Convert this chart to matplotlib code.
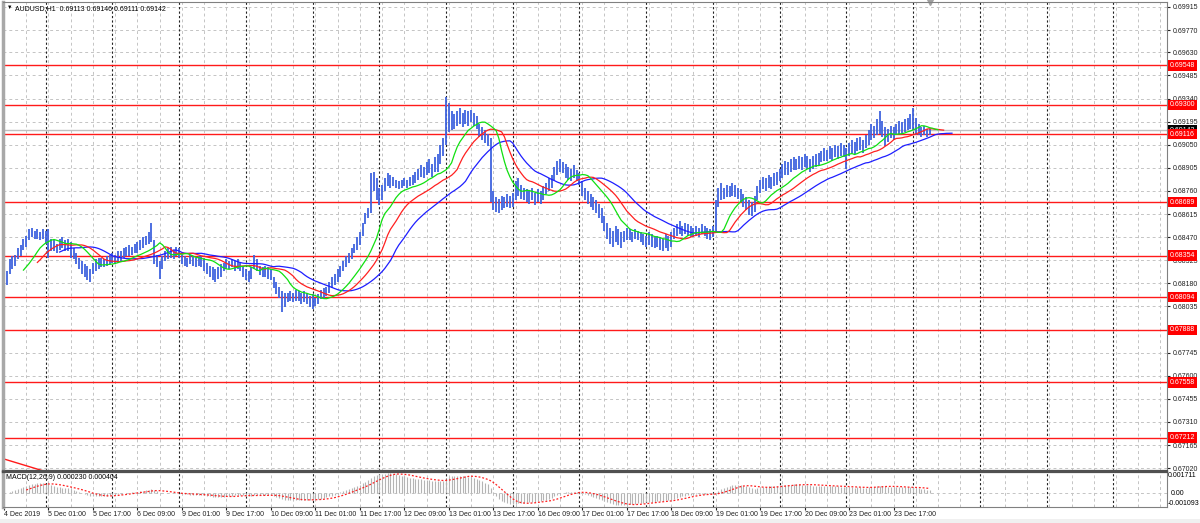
import numpy as np
import pandas as pd
import matplotlib
matplotlib.use("Agg")
import matplotlib.pyplot as plt
import matplotlib.transforms as mtransforms
from matplotlib.patches import Rectangle

plt.rcParams["font.family"] = ["Liberation Sans", "DejaVu Sans"]

# AUDUSD H1 bars, high / low (4 Dec 09:00 .. 24 Dec 06:00)
high = [
    0.6823, 0.6826, 0.6833, 0.6835, 0.6836, 0.6840, 0.6842, 0.6846, 0.6848, 0.6852,
    0.6853, 0.6851, 0.6852, 0.6850, 0.6852, 0.6851, 0.6852, 0.6846, 0.6845, 0.6843,
    0.6846, 0.6847, 0.6845, 0.6846, 0.6844, 0.6840, 0.6837, 0.6834, 0.6832, 0.6830,
    0.6829, 0.6827, 0.6831, 0.6833, 0.6834, 0.6834, 0.6833, 0.6835, 0.6836, 0.6837,
    0.6836, 0.6838, 0.6838, 0.6840, 0.6841, 0.6842, 0.6841, 0.6843, 0.6844, 0.6845,
    0.6847, 0.6848, 0.6850, 0.6856, 0.6845, 0.6836, 0.6832, 0.6835, 0.6838, 0.6840,
    0.6841, 0.6839, 0.6841, 0.6840, 0.6836, 0.6835, 0.6834, 0.6836, 0.6835, 0.6834,
    0.6835, 0.6835, 0.6834, 0.6831, 0.6829, 0.6828, 0.6827, 0.6828, 0.6830, 0.6831,
    0.6833, 0.6832, 0.6833, 0.6832, 0.6833, 0.6831, 0.6829, 0.6827, 0.6826, 0.6828,
    0.6836, 0.6833, 0.6829, 0.6828, 0.6829, 0.6828, 0.6827, 0.6822, 0.6819, 0.6816,
    0.6813, 0.6812, 0.6812, 0.6813, 0.6812, 0.6814, 0.6813, 0.6812, 0.6813, 0.6812,
    0.6810, 0.6811, 0.6809, 0.6811, 0.6814, 0.6815, 0.6816, 0.6819, 0.6822, 0.6824,
    0.6827, 0.6829, 0.6832, 0.6835, 0.6837, 0.6840, 0.6843, 0.6847, 0.6850, 0.6856,
    0.6862, 0.6865, 0.6887, 0.6888, 0.6884, 0.6878, 0.6880, 0.6884, 0.6887, 0.6886,
    0.6885, 0.6883, 0.6882, 0.6883, 0.6884, 0.6883, 0.6885, 0.6886, 0.6888, 0.6890,
    0.6892, 0.6891, 0.6894, 0.6896, 0.6893, 0.6897, 0.6899, 0.6905, 0.6909, 0.6935,
    0.6931, 0.6926, 0.6924, 0.6926, 0.6928, 0.6925, 0.6927, 0.6926, 0.6927, 0.6925,
    0.6923, 0.6918, 0.6916, 0.6914, 0.6912, 0.6909, 0.6876, 0.6872, 0.6871, 0.6873,
    0.6872, 0.6874, 0.6873, 0.6875, 0.6882, 0.6884, 0.6880, 0.6878, 0.6877, 0.6876,
    0.6878, 0.6875, 0.6877, 0.6876, 0.6879, 0.6881, 0.6884, 0.6886, 0.6891, 0.6895,
    0.6896, 0.6894, 0.6893, 0.6891, 0.6890, 0.6892, 0.6889, 0.6887, 0.6882, 0.6878,
    0.6876, 0.6874, 0.6872, 0.6870, 0.6868, 0.6865, 0.6860, 0.6856, 0.6853, 0.6851,
    0.6854, 0.6852, 0.6850, 0.6851, 0.6853, 0.6852, 0.6850, 0.6852, 0.6851, 0.6850,
    0.6849, 0.6848, 0.6850, 0.6849, 0.6847, 0.6848, 0.6847, 0.6846, 0.6849, 0.6848,
    0.6850, 0.6853, 0.6855, 0.6857, 0.6854, 0.6856, 0.6855, 0.6854, 0.6853, 0.6854,
    0.6853, 0.6855, 0.6854, 0.6853, 0.6852, 0.6854, 0.6870, 0.6878, 0.6881, 0.6878,
    0.6880, 0.6879, 0.6881, 0.6880, 0.6878, 0.6877, 0.6874, 0.6872, 0.6870, 0.6869,
    0.6873, 0.6879, 0.6883, 0.6885, 0.6884, 0.6886, 0.6885, 0.6887, 0.6888, 0.6890,
    0.6893, 0.6895, 0.6894, 0.6896, 0.6897, 0.6896, 0.6898, 0.6897, 0.6899, 0.6898,
    0.6896, 0.6898, 0.6899, 0.6900, 0.6901, 0.6903, 0.6902, 0.6904, 0.6903, 0.6905,
    0.6904, 0.6906, 0.6905, 0.6903, 0.6906, 0.6908, 0.6907, 0.6909, 0.6910, 0.6908,
    0.6911, 0.6914, 0.6918, 0.6917, 0.6921, 0.6926, 0.6920, 0.6916, 0.6915, 0.6917,
    0.6916, 0.6918, 0.6920, 0.6919, 0.6921, 0.6922, 0.6924, 0.6928, 0.6922, 0.6918,
    0.6916, 0.6917, 0.6915, 0.69146,
]
low = [
    0.6813, 0.6817, 0.6824, 0.6827, 0.6829, 0.6833, 0.6835, 0.6839, 0.6841, 0.6845,
    0.6847, 0.6846, 0.6846, 0.6845, 0.6846, 0.6843, 0.6834, 0.6838, 0.6838, 0.6837,
    0.6839, 0.6840, 0.6838, 0.6838, 0.6834, 0.6833, 0.6830, 0.6827, 0.6824, 0.6822,
    0.6820, 0.6819, 0.6824, 0.6826, 0.6827, 0.6828, 0.6828, 0.6829, 0.6830, 0.6831,
    0.6830, 0.6831, 0.6832, 0.6834, 0.6835, 0.6835, 0.6836, 0.6837, 0.6837, 0.6839,
    0.6840, 0.6842, 0.6843, 0.6844, 0.6830, 0.6828, 0.6821, 0.6827, 0.6832, 0.6833,
    0.6834, 0.6833, 0.6835, 0.6834, 0.6830, 0.6829, 0.6828, 0.6830, 0.6829, 0.6828,
    0.6829, 0.6828, 0.6826, 0.6824, 0.6822, 0.6820, 0.6819, 0.6821, 0.6822, 0.6826,
    0.6827, 0.6827, 0.6828, 0.6826, 0.6827, 0.6826, 0.6822, 0.6820, 0.6819, 0.6821,
    0.6827, 0.6826, 0.6823, 0.6822, 0.6822, 0.6821, 0.6820, 0.6815, 0.6811, 0.6809,
    0.6800, 0.6803, 0.6806, 0.6807, 0.6806, 0.6807, 0.6807, 0.6805, 0.6806, 0.6805,
    0.6803, 0.6802, 0.6804, 0.6805, 0.6808, 0.6809, 0.6810, 0.6812, 0.6815, 0.6817,
    0.6819, 0.6822, 0.6826, 0.6828, 0.6831, 0.6833, 0.6837, 0.6839, 0.6842, 0.6848,
    0.6855, 0.6859, 0.6862, 0.6876, 0.6870, 0.6867, 0.6870, 0.6876, 0.6879, 0.6878,
    0.6879, 0.6878, 0.6877, 0.6878, 0.6879, 0.6878, 0.6879, 0.6880, 0.6881, 0.6883,
    0.6885, 0.6884, 0.6886, 0.6887, 0.6885, 0.6888, 0.6888, 0.6893, 0.6898, 0.6905,
    0.6913, 0.6914, 0.6915, 0.6917, 0.6918, 0.6916, 0.6918, 0.6917, 0.6919, 0.6917,
    0.6915, 0.6910, 0.6908, 0.6906, 0.6904, 0.6869, 0.6864, 0.6863, 0.6862, 0.6864,
    0.6865, 0.6866, 0.6865, 0.6866, 0.6870, 0.6873, 0.6871, 0.6870, 0.6869, 0.6868,
    0.6870, 0.6867, 0.6869, 0.6868, 0.6870, 0.6874, 0.6876, 0.6878, 0.6883, 0.6886,
    0.6888, 0.6887, 0.6884, 0.6883, 0.6882, 0.6884, 0.6882, 0.6880, 0.6873, 0.6870,
    0.6868, 0.6866, 0.6864, 0.6862, 0.6859, 0.6856, 0.6851, 0.6846, 0.6843, 0.6841,
    0.6844, 0.6842, 0.6840, 0.6844, 0.6845, 0.6845, 0.6844, 0.6846, 0.6845, 0.6844,
    0.6842, 0.6841, 0.6842, 0.6841, 0.6840, 0.6841, 0.6839, 0.6838, 0.6840, 0.6838,
    0.6841, 0.6846, 0.6848, 0.6849, 0.6848, 0.6849, 0.6848, 0.6847, 0.6847, 0.6848,
    0.6847, 0.6849, 0.6848, 0.6846, 0.6845, 0.6847, 0.6850, 0.6866, 0.6870, 0.6871,
    0.6872, 0.6872, 0.6873, 0.6872, 0.6871, 0.6869, 0.6866, 0.6864, 0.6861, 0.6860,
    0.6863, 0.6870, 0.6875, 0.6877, 0.6876, 0.6878, 0.6877, 0.6879, 0.6880, 0.6882,
    0.6884, 0.6886, 0.6886, 0.6888, 0.6889, 0.6889, 0.6890, 0.6889, 0.6891, 0.6890,
    0.6888, 0.6890, 0.6891, 0.6892, 0.6894, 0.6895, 0.6895, 0.6896, 0.6895, 0.6897,
    0.6896, 0.6898, 0.6897, 0.6890, 0.6898, 0.6900, 0.6899, 0.6901, 0.6902, 0.6900,
    0.6903, 0.6905, 0.6908, 0.6909, 0.6911, 0.6912, 0.6910, 0.6904, 0.6907, 0.6909,
    0.6908, 0.6911, 0.6912, 0.6912, 0.6913, 0.6914, 0.6915, 0.6914, 0.6911, 0.6911,
    0.6910, 0.6911, 0.6910, 0.69111,
]

levels = [0.69548, 0.69300, 0.69116, 0.68689, 0.68354, 0.68094, 0.67888, 0.67558, 0.67212]
last_price = 0.69142
title_txt = "AUDUSD,H1  0.69113 0.69146 0.69111 0.69142"
macd_txt = "MACD(12,26,9) 0.000230 0.000404"

price_ticks = [0.69915, 0.69770, 0.69630, 0.69485, 0.69340, 0.69195, 0.69050, 0.68905,
               0.68760, 0.68615, 0.68470, 0.68325, 0.68180, 0.68035, 0.67890, 0.67745,
               0.67600, 0.67455, 0.67310, 0.67165, 0.67020]
time_labels = ["4 Dec 2019", "5 Dec 01:00", "5 Dec 17:00", "6 Dec 09:00", "9 Dec 01:00",
               "9 Dec 17:00", "10 Dec 09:00", "11 Dec 01:00", "11 Dec 17:00", "12 Dec 09:00",
               "13 Dec 01:00", "13 Dec 17:00", "16 Dec 09:00", "17 Dec 01:00", "17 Dec 17:00",
               "18 Dec 09:00", "19 Dec 01:00", "19 Dec 17:00", "20 Dec 09:00", "23 Dec 01:00",
               "23 Dec 17:00"]
label_step = 16
day_start = 15        # first day separator (bar index)
macd_lo, macd_hi = -0.001093, 0.001711

# trendline object running off the bottom left
trend_x = [-0.5, 15.0]
trend_y = [0.67080, 0.66998]


def smma(values, n):
    out = np.full(len(values), np.nan)
    out[n - 1] = values[:n].mean()
    for i in range(n, len(values)):
        out[i] = (out[i - 1] * (n - 1) + values[i]) / n
    return out


hi = np.array(high)
lo = np.array(low)
n = len(hi)
idx = np.arange(n)
median = (hi + lo) / 2

# Alligator (jaw 13/8, teeth 8/5, lips 5/3)
jaw = smma(median, 13)
teeth = smma(median, 8)
lips = smma(median, 5)

close = pd.Series(median)
macd = close.ewm(span=12, adjust=False).mean() - close.ewm(span=26, adjust=False).mean()
signal = macd.rolling(9).mean()

W, H = 1200, 523
fig = plt.figure(figsize=(12, 5.23), dpi=100)
fig.patches.append(Rectangle((0, 0), 1, 4 / H, transform=fig.transFigure,
                             fc="#f0f0f0", ec="none", zorder=0))
ax = fig.add_axes([3 / W, 52 / H, 1164 / W, 469 / H])
axm = fig.add_axes([3 / W, 16 / H, 1164 / W, 35 / H], sharex=ax)

xmax = (1167 - 4) / 2.78
ax.set_xlim(-0.36, xmax)
ax.set_ylim(0.67002, 0.69946)
axm.set_ylim(macd_lo, macd_hi)

grid_kw = dict(color="#c4c4c4", lw=0.7, dashes=(3, 3), zorder=0)
sep_kw = dict(color="#222222", lw=0.8, dashes=(2, 2), zorder=0.5)
for a in (ax, axm):
    for g in np.arange(0, xmax, 8):
        a.axvline(g, **grid_kw)
    for s in np.arange(day_start, xmax, 24):
        a.axvline(s, **sep_kw)
for p in price_ticks:
    ax.axhline(p, **grid_kw)
axm.axhline(0, **grid_kw)

# horizontal levels
for lv in levels:
    ax.axhline(lv, color="#ff1a1a", lw=1.0, zorder=1)
ax.axhline(last_price, color="#c0c0c0", lw=1.0, zorder=1)
ax.plot(trend_x, trend_y, color="#ff1a1a", lw=1.0, zorder=1)

# bars
ax.vlines(idx, lo, hi, color="#3f63de", lw=1.3, zorder=2)

ax.plot(idx + 8, jaw, color="#1e1eff", lw=0.9, zorder=3)
ax.plot(idx + 5, teeth, color="#ff2020", lw=0.9, zorder=3)
ax.plot(idx + 3, lips, color="#10e010", lw=0.9, zorder=3)

# macd
axm.vlines(idx, 0, macd, color="#b4b4b4", lw=0.8, zorder=2)
axm.plot(idx, signal, color="#ff2020", lw=0.9, ls=(0, (1.5, 1.5)), zorder=3)

# axes styling
for a in (ax, axm):
    for sp in a.spines.values():
        sp.set_color("#808080")
        sp.set_linewidth(0.8)
    a.spines["left"].set_color("#a8a8a8")
    a.spines["left"].set_linewidth(2.5)
ax.spines["bottom"].set_color("#505050")
ax.spines["bottom"].set_linewidth(1.6)
axm.spines["top"].set_color("#505050")
axm.spines["top"].set_linewidth(1.6)

fs = 5.0
ax.yaxis.tick_right()
ax.set_yticks(price_ticks)
# tick labels hidden under a level label are not shown
tick_txt = [f"{p:.5f}" if min(abs(p - lv) for lv in levels) > 0.00008 else "" for p in price_ticks]
ax.set_yticklabels(tick_txt)
ax.tick_params(axis="y", labelsize=fs, length=2.5, pad=1.5, colors="#202020")
ax.tick_params(axis="x", bottom=False, labelbottom=False)

axm.yaxis.tick_right()
axm.set_yticks([])
tr = mtransforms.blended_transform_factory(axm.transAxes, axm.transData)
axm.text(1.001, macd_hi, f"{macd_hi:.6f}", transform=tr, va="top", ha="left", fontsize=fs)
axm.text(1.003, 0, "0.00", transform=tr, va="center", ha="left", fontsize=fs)
axm.text(1.0005, macd_lo, f"{macd_lo:.6f}", transform=tr, va="bottom", ha="left", fontsize=fs)

tick_pos = np.arange(len(time_labels)) * label_step
axm.set_xticks(tick_pos)
axm.set_xticklabels(time_labels, ha="left")
axm.tick_params(axis="x", labelsize=fs, length=2, pad=1, colors="#202020")

# level labels
trm = mtransforms.blended_transform_factory(ax.transAxes, ax.transData)
ax.text(1.0025, last_price, f"{last_price:.5f}", transform=trm, va="center", ha="left",
        fontsize=fs, color="white", zorder=6, clip_on=False,
        bbox=dict(boxstyle="square,pad=0.25", fc="#000000", ec="none"))
for lv in levels:
    ax.text(1.0025, lv, f"{lv:.5f}", transform=trm, va="center", ha="left", fontsize=fs,
            color="white", zorder=7, clip_on=False,
            bbox=dict(boxstyle="square,pad=0.25", fc="#ff0000", ec="none"))

ax.text(0.003, 0.993, "\u25bc", transform=ax.transAxes, va="top", ha="left", fontsize=4)
ax.text(0.0105, 0.993, title_txt, transform=ax.transAxes, va="top", ha="left", fontsize=fs)
axm.text(0.003, 0.93, macd_txt, transform=axm.transAxes, va="top", ha="left", fontsize=fs)

# chart shift marker
ax.plot([n - 1], [1.0], marker="v", ms=4, color="#a0a0a0",
        transform=mtransforms.blended_transform_factory(ax.transData, ax.transAxes),
        clip_on=False)

fig.savefig("out.png", dpi=100)
